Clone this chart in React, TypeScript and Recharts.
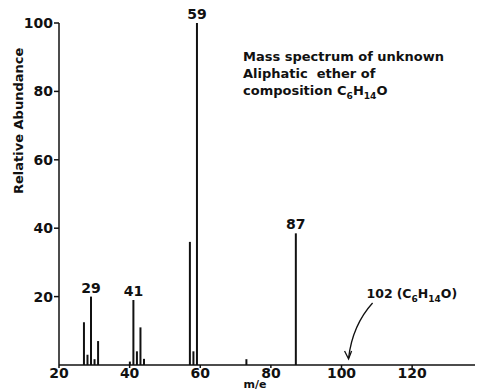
import { BarChart, Bar, XAxis, YAxis, LabelList, ReferenceDot } from 'recharts'

// peaks (m/e, relative abundance)
const massToCharge = [27, 28, 29, 30, 31, 40, 41, 42, 43, 44, 57, 58, 59, 73, 87]
const abundance = [12.5, 3, 20, 1.7, 7, 1, 19, 4, 11, 1.8, 36, 4, 100, 1.7, 38.5]
const labelledPeaks = [29, 41, 59, 87]
const xTicks = [20, 40, 60, 80, 100, 120]
const yTicks = [20, 40, 60, 80, 100]
const molecularIon = 102

const FONT = '"DejaVu Sans", sans-serif'
const INK = '#111'

const rows = massToCharge.map((mz, i) => ({
  mz,
  abundance: abundance[i],
  label: labelledPeaks.includes(mz) ? String(mz) : undefined,
}))

function Formula({ size }: { size: number }) {
  const sub: React.CSSProperties = { fontSize: size * 0.7, verticalAlign: 'sub', lineHeight: 0 }
  return (
    <span>
      C<span style={sub}>6</span>H<span style={sub}>14</span>O
    </span>
  )
}

function MolecularIonArrow(props: { cx?: number; cy?: number }) {
  const cx = props.cx ?? 0
  const cy = props.cy ?? 0
  return (
    <g>
      <path
        d={`M ${cx + 24} ${cy - 62} Q ${cx + 4} ${cy - 40} ${cx} ${cy - 7}`}
        fill="none"
        stroke={INK}
        strokeWidth={1.3}
      />
      <path
        d={`M ${cx - 4} ${cy - 14} L ${cx} ${cy - 6} L ${cx + 3} ${cy - 14}`}
        fill="none"
        stroke={INK}
        strokeWidth={1.3}
      />
      <text x={cx + 18} y={cy - 67} fontFamily={FONT} fontWeight={700} fontSize={12.5} fill={INK}>
        {molecularIon}
        <tspan dx={4}>(C</tspan>
        <tspan dy={4} fontSize={9}>6</tspan>
        <tspan dy={-4}>H</tspan>
        <tspan dy={4} fontSize={9}>14</tspan>
        <tspan dy={-4}>O)</tspan>
      </text>
    </g>
  )
}

export default function App() {
  return (
    <div style={{ position: 'absolute', left: 0, top: 0, width: 477, height: 391, background: '#fff' }}>
      <BarChart
        width={477}
        height={391}
        data={rows}
        margin={{ top: 23, right: 2, left: 0, bottom: 0 }}
      >
        <XAxis
          dataKey="mz"
          type="number"
          domain={[20, 137.8]}
          ticks={xTicks}
          height={26}
          tickSize={3}
          tickMargin={0}
          stroke={INK}
          strokeWidth={1.5}
          tick={{ fill: INK, fontFamily: FONT, fontWeight: 700, fontSize: 14 }}
          label={{
            value: 'm/e',
            position: 'insideBottom',
            offset: 3,
            dx: -12,
            fill: INK,
            fontFamily: FONT,
            fontWeight: 700,
            fontSize: 11,
          }}
        />
        <YAxis
          type="number"
          domain={[0, 100]}
          ticks={yTicks}
          width={59}
          tickSize={5}
          tickMargin={1}
          stroke={INK}
          strokeWidth={1.5}
          tick={{ fill: INK, fontFamily: FONT, fontWeight: 700, fontSize: 14 }}
          label={{
            value: 'Relative  Abundance',
            angle: -90,
            position: 'insideLeft',
            offset: 18,
            fill: INK,
            fontFamily: FONT,
            fontWeight: 700,
            fontSize: 13,
          }}
        />
        <Bar dataKey="abundance" barSize={2} fill={INK} isAnimationActive={false}>
          <LabelList
            dataKey="label"
            position="top"
            offset={4}
            fill={INK}
            fontFamily={FONT}
            fontWeight={700}
            fontSize={14}
          />
        </Bar>
        <ReferenceDot x={molecularIon} y={0} shape={<MolecularIonArrow />} />
      </BarChart>
      <div
        style={{
          position: 'absolute',
          left: 243,
          top: 48,
          fontFamily: FONT,
          fontWeight: 700,
          fontSize: 13,
          lineHeight: '17px',
          color: INK,
          whiteSpace: 'nowrap',
        }}
      >
        <div>Mass spectrum of unknown</div>
        <div>Aliphatic &nbsp;ether of</div>
        <div>
          composition <Formula size={13} />
        </div>
      </div>
    </div>
  )
}
